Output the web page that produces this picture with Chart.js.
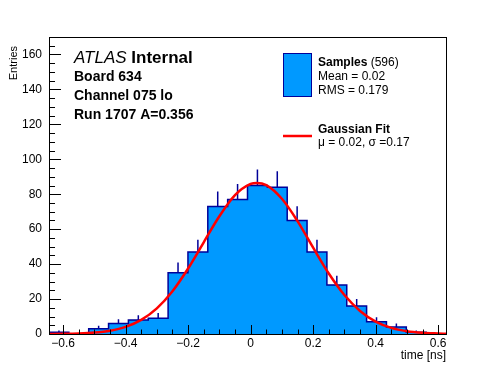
<!DOCTYPE html>
<html><head><meta charset="utf-8">
<script src="https://cdn.jsdelivr.net/npm/chart.js@4.4.0/dist/chart.umd.min.js"></script>
<style>html,body{margin:0;padding:0;background:#fff;}#wrap{width:496px;height:372px;}</style>
</head><body><div id="wrap"><canvas id="c" width="496" height="372"></canvas></div>
<script>
// ---- data ----
const histMin = -0.645, histMax = 0.625;
const counts = [1,0,3,6,8,9,35,47,73,77,85,84,65,47,28,16,7,4,1,0];
const errors = [1,0,1.7,2.4,2.8,3,5.9,6.9,8.5,8.8,9.2,9.2,8.1,6.9,5.3,4,2.6,2,1,0];
const fitX = [-0.645,-0.6,-0.55,-0.5,-0.45,-0.4,-0.35,-0.3,-0.25,-0.2,-0.15,-0.1,-0.05,0,0.02,0.05,0.1,0.15,0.2,0.25,0.3,0.35,0.4,0.45,0.5,0.55,0.6,0.625];
const fitY = [0.04,0.1,0.3,0.8,1.9,4.1,8.1,14.7,24.5,37.5,52.5,67.4,79.5,85.9,86.5,85.2,77.4,64.6,49.4,34.6,22.3,13.2,7.1,3.5,1.6,0.7,0.3,0.15];
const xTickStep = 0.2, yTickStep = 20, yMin = 0, yMax = 170;
const xTitle = 'time [ns]', yTitle = 'Entries';
const infoLines = ['Board 634', 'Channel 075 lo', 'Run 1707 A=0.356'];
const legendHist = ['Samples', ' (596)', 'Mean = 0.02', 'RMS = 0.179'];
const legendFit = ['Gaussian Fit', 'μ = 0.02, σ =0.17'];

// ---- build library datasets ----
const nb = counts.length;
const bw = (histMax - histMin) / nb;
const edge = i => histMin + i * bw;
const histPts = [{x: edge(0), y: 0}];
counts.forEach((c, i) => histPts.push({x: edge(i), y: c}));
histPts.push({x: edge(nb), y: counts[nb - 1]});
histPts.push({x: edge(nb), y: 0});
const errPts = [];
counts.forEach((c, i) => {
  if (c > 0) {
    const cx = edge(i) + bw / 2;
    errPts.push({x: cx, y: c}, {x: cx, y: c + errors[i]}, {x: cx, y: null});
  }
});
const fitPts = fitX.map((x, i) => ({x, y: fitY[i]}));

const FONT = "'Liberation Sans', Arial, Helvetica, sans-serif";
Chart.defaults.font.family = FONT;
Chart.defaults.color = '#000';

const fmtX = v => Math.abs(v) < 1e-9 ? '0' : (v < 0 ? '\u2212' + (+Math.abs(v).toFixed(2)) : String(+v.toFixed(2)));

const overlay = {
  id: 'overlay',
  afterDraw(chart) {
    const ctx = chart.ctx, a = chart.chartArea;
    const xs = chart.scales.x, ys = chart.scales.y;
    ctx.save();
    ctx.strokeStyle = '#000'; ctx.lineWidth = 1;
    // frame
    ctx.strokeRect(Math.round(a.left) + 0.5, Math.round(a.top) + 0.5, Math.round(a.right - a.left), Math.round(a.bottom - a.top));
    // x ticks (inward)
    const xMaj = xs.ticks.map(t => t.value);
    const xMin = new Set();
    xMaj.forEach(t => { for (let k = -3; k <= 3; k++) { const v = +(t + k * xTickStep / 4).toFixed(4); if (v >= xs.min && v <= xs.max) xMin.add(v); } });
    ctx.beginPath();
    xMin.forEach(v => { const p = Math.round(xs.getPixelForValue(v)) + 0.5; const isMaj = xMaj.some(m => Math.abs(m - v) < 1e-6); ctx.moveTo(p, a.bottom); ctx.lineTo(p, a.bottom - (isMaj ? 9 : 4.5)); });
    // y ticks
    const yMaj = ys.ticks.map(t => t.value);
    const yMinS = new Set();
    yMaj.forEach(t => { for (let k = -3; k <= 3; k++) { const v = t + k * yTickStep / 4; if (v >= ys.min && v <= ys.max) yMinS.add(v); } });
    yMinS.forEach(v => { const p = Math.round(ys.getPixelForValue(v)) + 0.5; const isMaj = yMaj.includes(v); ctx.moveTo(a.left, p); ctx.lineTo(a.left + (isMaj ? 12 : 6), p); });
    ctx.stroke();

    // axis titles
    ctx.fillStyle = '#000';
    ctx.font = '12px ' + FONT; ctx.textAlign = 'right'; ctx.textBaseline = 'alphabetic';
    ctx.fillText(xTitle, a.right, 358.5);
    ctx.save(); ctx.translate(17, 46); ctx.rotate(-Math.PI / 2);
    ctx.font = '11px ' + FONT; ctx.textAlign = 'right'; ctx.fillText(yTitle, 0, 0); ctx.restore();

    // ATLAS label
    ctx.textAlign = 'left';
    ctx.font = 'italic 17px ' + FONT;
    ctx.fillText('ATLAS ', 74, 62.5);
    const wA = ctx.measureText('ATLAS ').width;
    ctx.font = 'bold 17px ' + FONT;
    ctx.fillText('Internal', 74 + wA, 62.5);
    ctx.font = 'bold 14px ' + FONT;
    infoLines.forEach((t, i) => ctx.fillText(t, 74, 81 + i * 19.2));

    // legend
    const ds0 = chart.data.datasets[0], ds2 = chart.data.datasets[2];
    ctx.fillStyle = ds0.backgroundColor; ctx.fillRect(283.5, 53.5, 28, 43);
    ctx.strokeStyle = ds0.borderColor; ctx.lineWidth = 1; ctx.strokeRect(283.5, 53.5, 28, 43);
    ctx.fillStyle = '#000';
    ctx.font = 'bold 12px ' + FONT; ctx.fillText(legendHist[0], 318, 65.5);
    const wS = ctx.measureText(legendHist[0]).width;
    ctx.font = '12px ' + FONT; ctx.fillText(legendHist[1], 318 + wS, 65.5);
    ctx.fillText(legendHist[2], 318, 80); ctx.fillText(legendHist[3], 318, 94);
    ctx.strokeStyle = ds2.borderColor; ctx.lineWidth = 2.5;
    ctx.beginPath(); ctx.moveTo(283, 136); ctx.lineTo(312, 136); ctx.stroke();
    ctx.font = 'bold 12px ' + FONT; ctx.fillText(legendFit[0], 318, 133);
    ctx.font = '12px ' + FONT; ctx.fillText(legendFit[1], 318, 145.5);
    ctx.restore();
  }
};

new Chart(document.getElementById('c'), {
  type: 'line',
  data: {
    datasets: [
      {label: 'Samples', data: histPts, stepped: true, fill: 'origin', backgroundColor: '#0099ff', borderColor: '#000099', borderWidth: 1.5, pointRadius: 0, order: 3},
      {label: 'errors', data: errPts, borderColor: '#000099', borderWidth: 1.5, pointRadius: 0, spanGaps: false, fill: false, order: 2},
      {label: 'Gaussian Fit', data: fitPts, borderColor: '#ff0000', borderWidth: 2.5, pointRadius: 0, cubicInterpolationMode: 'monotone', fill: false, order: 1}
    ]
  },
  options: {
    responsive: false, animation: false, devicePixelRatio: 1,
    layout: {padding: {left: 0, top: 37, right: 50, bottom: 0}},
    plugins: {legend: {display: false}, tooltip: {enabled: false}, title: {display: false}},
    scales: {
      x: {type: 'linear', min: histMin, max: histMax,
          grid: {display: false, drawTicks: false}, border: {display: false},
          ticks: {stepSize: xTickStep, includeBounds: false, autoSkip: false, maxRotation: 0, padding: 2, font: {size: 12}, callback: v => fmtX(v)},
          afterFit: s => { s.height = 38; }},
      y: {type: 'linear', min: yMin, max: yMax,
          grid: {display: false, drawTicks: false}, border: {display: false},
          ticks: {stepSize: yTickStep, includeBounds: false, autoSkip: false, padding: 7, font: {size: 12}, callback: v => String(v)},
          afterFit: s => { s.width = 49; }}
    }
  },
  plugins: [overlay]
});
</script></body></html>
